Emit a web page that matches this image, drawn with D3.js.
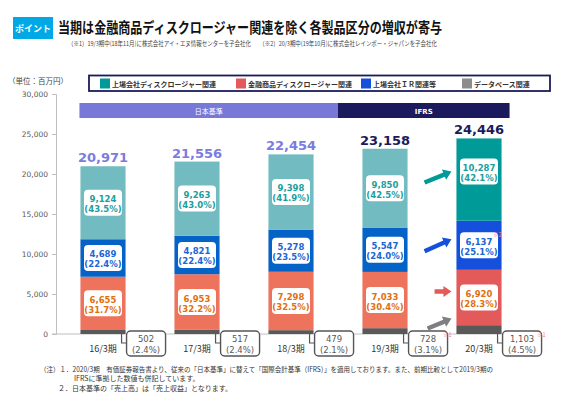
<!DOCTYPE html>
<html>
<head>
<meta charset="utf-8">
<script src="https://cdn.jsdelivr.net/npm/d3@7"></script>
<style>
  body { margin: 0; background: #fff; }
  text { font-family: "Noto Sans CJK JP", "DejaVu Sans", sans-serif; }
  .num { font-family: "DejaVu Sans", Verdana, sans-serif; }
</style>
</head>
<body>
<svg id="chart" width="581" height="408"></svg>
<script>
// periods and values (百万円)
var categories = ["16/3期", "17/3期", "18/3期", "19/3期", "20/3期"];
var listed = [9124, 9263, 9398, 9850, 10287];
var listedPct = ["43.5%", "43.0%", "41.9%", "42.5%", "42.1%"];
var ir = [4689, 4821, 5278, 5547, 6137];
var irPct = ["22.4%", "22.4%", "23.5%", "24.0%", "25.1%"];
var fin = [6655, 6953, 7298, 7033, 6920];
var finPct = ["31.7%", "32.2%", "32.5%", "30.4%", "28.3%"];
var db = [502, 517, 479, 728, 1103];
var dbPct = ["2.4%", "2.4%", "2.1%", "3.1%", "4.5%"];
var totals = [20971, 21556, 22454, 23158, 24446];
var dbNote = ["", "", "", "※1", "※1"];
var irNote = ["", "", "", "", "※2"];
var yTicks = [0, 5000, 10000, 15000, 20000, 25000, 30000];
var seriesNames = ["上場会社ディスクロージャー関連", "金融商品ディスクロージャー関連", "上場会社ＩＲ関連等", "データベース関連"];

var svg = d3.select("#chart");
svg.append("rect").attr("width", 581).attr("height", 408).attr("fill", "#fff");

// colours: first four years vs. 20/3 (IFRS highlight)
var col = {
  listed: ["#72bcc1", "#009a98"],
  ir: ["#0563c8", "#1450dc"],
  fin: ["#ee735c", "#e25a5a"],
  db: ["#595959", "#595959"]
};
var txtCol = {listed: "#1c9e9e", ir: "#1a66d6", fin: "#e0700f", db: "#595959"};

var rows = categories.map(function(c, i) {
  return {cat: c, i: i, db: db[i], fin: fin[i], ir: ir[i], listed: listed[i]};
});
var keys = ["db", "fin", "ir", "listed"];
var pcts = {db: dbPct, fin: finPct, ir: irPct, listed: listedPct};
var stacked = d3.stack().keys(keys)(rows);

var x = d3.scaleBand().domain(categories).range([56, 526]).paddingInner(0.52).paddingOuter(0.26);
var y = d3.scaleLinear().domain([0, 30000]).range([334, 94]);
var bw = x.bandwidth();

// ---- header
svg.append("rect").attr("x", 13).attr("y", 17).attr("width", 40).attr("height", 22).attr("fill", "#00a9e6");
svg.append("text").attr("x", 33).attr("y", 31.5).attr("text-anchor", "middle")
  .attr("fill", "#fff").attr("font-size", 9).attr("font-weight", "bold").text("ポイント");
svg.append("text").attr("x", 58).attr("y", 33).attr("font-size", 14.5).attr("font-weight", "bold")
  .attr("fill", "#111").attr("textLength", 384).attr("lengthAdjust", "spacingAndGlyphs")
  .text("当期は金融商品ディスクロージャー関連を除く各製品区分の増収が寄与");
svg.append("text").attr("x", 68).attr("y", 46).attr("font-size", 6.5).attr("fill", "#444")
  .attr("textLength", 369).attr("lengthAdjust", "spacingAndGlyphs")
  .text("（※1）19/3期中(18年11月)に株式会社アイ・エヌ情報センターを子会社化　　（※2）20/3期中(19年10月)に株式会社レインボー・ジャパンを子会社化");

// ---- legend
svg.append("text").attr("x", 8).attr("y", 84).attr("font-size", 7.5).attr("fill", "#444").text("（単位：百万円）");
svg.append("rect").attr("x", 89).attr("y", 75.5).attr("width", 461).attr("height", 15.5)
  .attr("fill", "#fff").attr("stroke", "#1b1b5c").attr("stroke-width", 1.8);
var legX = [100, 236, 361, 462];
var legKeys = ["listed", "fin", "ir", "db"];
legKeys.forEach(function(k, i) {
  svg.append("rect").attr("x", legX[i]).attr("y", 78.5).attr("width", 10).attr("height", 10)
    .attr("fill", k == "db" ? "#8c8c8c" : col[k][1]);
  svg.append("text").attr("x", legX[i] + 12).attr("y", 86.5).attr("font-size", 7)
    .attr("font-weight", "bold").attr("fill", "#333").text(seriesNames[i]);
});

// ---- standard bands
var jpStart = x(categories[0]) - 1;
var split = (x(categories[2]) + bw + x(categories[3])) / 2;
var ifrsEnd = x(categories[4]) + bw + 8;
svg.append("rect").attr("x", jpStart).attr("y", 103).attr("width", split - jpStart).attr("height", 15).attr("fill", "#7878d8");
svg.append("rect").attr("x", split).attr("y", 103).attr("width", ifrsEnd - split).attr("height", 15).attr("fill", "#1a1a5c");
svg.append("text").attr("x", (jpStart + split) / 2).attr("y", 113.5).attr("text-anchor", "middle")
  .attr("font-size", 7).attr("fill", "#fff").text("日本基準");
svg.append("text").attr("class", "num").attr("x", (split + ifrsEnd) / 2).attr("y", 113.5).attr("text-anchor", "middle")
  .attr("font-size", 7).attr("font-weight", "bold").attr("fill", "#fff").text("IFRS");

// ---- axis
var yAxis = svg.append("g").attr("transform", "translate(56,0)")
  .call(d3.axisLeft(y).tickValues(yTicks).tickFormat(d3.format(",")).tickSize(4).tickPadding(4));
yAxis.select(".domain").attr("stroke", "#bfbfbf");
yAxis.selectAll(".tick line").attr("stroke", "#bfbfbf");
yAxis.selectAll("text").attr("class", "num").attr("font-size", 7.5).attr("fill", "#595959");
svg.append("line").attr("x1", 52).attr("x2", 530).attr("y1", y(0)).attr("y2", y(0)).attr("stroke", "#bfbfbf");

// ---- bars
var layer = svg.selectAll(".layer").data(stacked).enter().append("g").attr("class", "layer");
layer.selectAll("rect").data(function(s) { return s.map(function(d) { d.key = s.key; return d; }); })
  .enter().append("rect")
  .attr("x", function(d) { return x(d.data.cat); })
  .attr("width", bw)
  .attr("y", function(d) { return y(d[1]); })
  .attr("height", function(d) { return y(d[0]) - y(d[1]); })
  .attr("fill", function(d) { return col[d.key][d.data.i == 4 ? 1 : 0]; });

// category labels
svg.selectAll(".cat").data(categories).enter().append("text")
  .attr("x", function(d) { return x(d) + bw / 2; }).attr("y", 352)
  .attr("text-anchor", "middle").attr("font-size", 9).attr("fill", "#333").text(function(d) { return d; });

// totals
svg.selectAll(".tot").data(totals).enter().append("text").attr("class", "num")
  .attr("x", function(d, i) { return x(categories[i]) + bw / 2; })
  .attr("y", function(d, i) { return y(d3.sum(keys, function(k) { return rows[i][k]; })) - 4; })
  .attr("text-anchor", "middle").attr("font-size", 13).attr("font-weight", "bold")
  .attr("fill", function(d, i) { return i < 3 ? "#7b7be0" : "#1b1b5c"; })
  .text(d3.format(","));

// segment labels (fin, ir, listed)
stacked.filter(function(s) { return s.key != "db"; }).forEach(function(s) {
  s.forEach(function(d, i) {
    var cx = x(d.data.cat) + bw / 2, cy = (y(d[0]) + y(d[1])) / 2;
    if (s.key == "listed" && i == 4) cy -= 8;
    var g = svg.append("g");
    g.append("rect").attr("x", cx - 19).attr("y", cy - 13).attr("width", 38).attr("height", 26)
      .attr("rx", 4).attr("fill", "#fff");
    g.append("text").attr("class", "num").attr("x", cx).attr("y", cy - 0.5).attr("text-anchor", "middle")
      .attr("font-size", 8.5).attr("font-weight", "bold").attr("fill", txtCol[s.key]).text(d3.format(",")(d.data[s.key]));
    g.append("text").attr("class", "num").attr("x", cx).attr("y", cy + 9.5).attr("text-anchor", "middle")
      .attr("font-size", 8.5).attr("font-weight", "bold").attr("fill", txtCol[s.key]).text("(" + pcts[s.key][i] + ")");
    if (s.key == "ir" && irNote[i]) {
      g.append("text").attr("x", cx + 14).attr("y", cy - 8).attr("font-size", 5.5)
        .attr("fill", "#ff7070").text(irNote[i]);
    }
  });
});

// database callouts below the axis
rows.forEach(function(r, i) {
  var bx = x(r.cat) + bw + 1, top = y(0) - 3;
  svg.append("path").attr("d", "M" + (bx - 5) + "," + y(0) + "V" + (y(0) + 9) + "H" + bx)
    .attr("fill", "none").attr("stroke", "#555").attr("stroke-width", 1.2);
  svg.append("rect").attr("x", bx).attr("y", top).attr("width", 39).attr("height", 25).attr("rx", 4)
    .attr("fill", "#fff").attr("stroke", "#555").attr("stroke-width", 1.4);
  svg.append("text").attr("class", "num").attr("x", bx + 19.5).attr("y", top + 11).attr("text-anchor", "middle")
    .attr("font-size", 8.5).attr("fill", "#595959").text(d3.format(",")(r.db));
  svg.append("text").attr("class", "num").attr("x", bx + 19.5).attr("y", top + 21.5).attr("text-anchor", "middle")
    .attr("font-size", 8.5).attr("fill", "#595959").text("(" + dbPct[i] + ")");
  if (dbNote[i]) {
    svg.append("text").attr("x", bx + 34.5).attr("y", top + 5.5)
      .attr("font-size", 5.5).attr("fill", "#ff7070").text(dbNote[i]);
  }
});

// growth arrows 19/3 -> 20/3
var arrowStyle = {listed: [-8, 11, 0], ir: [-6, 12, 0], fin: [-6, 0, 10], db: [-11, 10, 3]};
var arrowCol = {listed: "#009a98", ir: "#1450dc", fin: "#e25a5a", db: "#7f7f7f"};
stacked.forEach(function(s) {
  var d5 = s[4];
  var c5 = (y(d5[0]) + y(d5[1])) / 2;
  var st = arrowStyle[s.key];
  var x1 = x(categories[4]) - 5, y1 = c5 + st[0];
  var x0 = x(categories[3]) + bw + 17 + st[2], y0 = y1 + st[1];
  var a = Math.atan2(y1 - y0, x1 - x0), len = Math.hypot(x1 - x0, y1 - y0);
  var hl = 8, hw = 5.5, sw = 2.2;
  var pts = [[0, -sw], [len - hl, -sw], [len - hl, -hw], [len, 0], [len - hl, hw], [len - hl, sw], [0, sw]];
  svg.append("polygon").attr("fill", arrowCol[s.key])
    .attr("points", pts.map(function(p) {
      return [x0 + p[0] * Math.cos(a) - p[1] * Math.sin(a), y0 + p[0] * Math.sin(a) + p[1] * Math.cos(a)].join(",");
    }).join(" "));
});

// footnotes
var notes = [
  [40, 372, "（注）１．2020/3期　有価証券報告書より、従来の「日本基準」に替えて「国際会計基準（IFRS）」を適用しております。また、前期比較として2019/3期の", 453],
  [74, 381, "IFRSに準拠した数値も併記しています。", 0],
  [58, 391, "２．日本基準の「売上高」は「売上収益」となります。", 0]
];
notes.forEach(function(n) {
  var t = svg.append("text").attr("x", n[0]).attr("y", n[1]).attr("font-size", 7).attr("fill", "#333").text(n[2]);
  if (n[3]) t.attr("textLength", n[3]).attr("lengthAdjust", "spacingAndGlyphs");
});
</script>
</body>
</html>
